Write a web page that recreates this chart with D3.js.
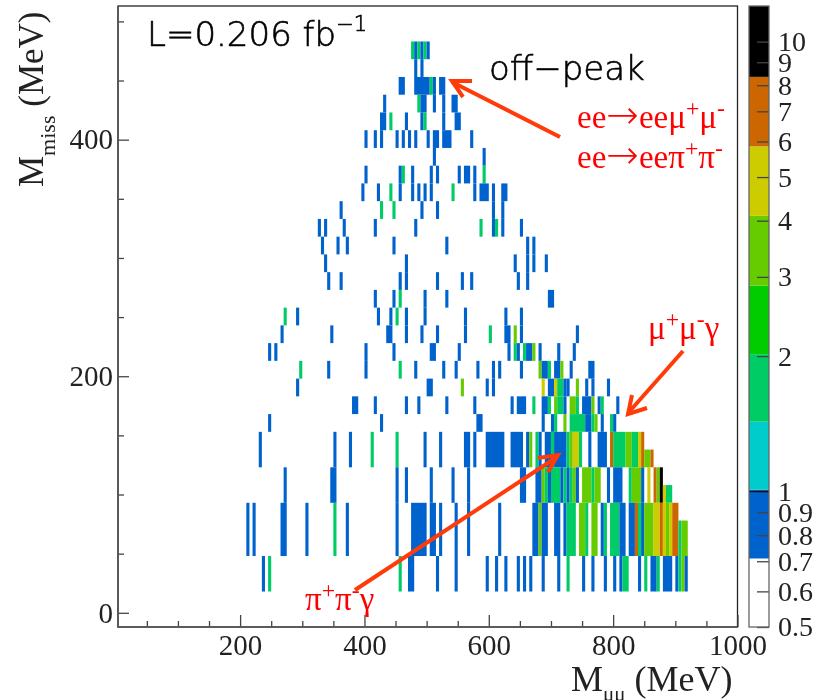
<!DOCTYPE html>
<html>
<head>
	<meta charset="utf-8">
	<script src="https://d3js.org/d3.v7.min.js"></script>
	<title>Mmiss vs Mmumu</title>
	<style>
		body { margin: 0; background: #fff; }
		svg { display: block; filter: blur(0.35px); }
		text { font-family: "Liberation Serif", serif; }
		text.sans { font-family: "DejaVu Sans", sans-serif; font-weight: 200; stroke: #000; stroke-width: 0.6px; }
	</style>
</head>
<body>
	<svg id="SVG" width="822" height="700"></svg>
	<script>
		// row edges in Mmiss (MeV), the lowest rows are wider
		var rowLow = [468,453,438,423,408,393,378,363,348,333,318,303,288,273,258,243,228,213,198,183,168,153,123,123,93,93,48,48,18];
		var rowHigh = [483,468,453,438,423,408,393,378,363,348,333,318,303,288,273,258,243,228,213,198,183,168,153,138,123,108,93,78,48];

		// cells of each row: [from Mmumu, to Mmumu, entries]
		var rowCells = [
			[[475,480,2],[480,485,1],[485,490,2],[490,495,1],[495,500,2],[500,505,1]],
			[[480,485,1],[490,495,1]],
			[[455,465,1],[480,505,1],[505,510,2],[510,515,1],[520,530,1]],
			[[430,435,1],[485,490,2],[490,500,1],[510,515,1],[525,530,1],[540,550,1]],
			[[425,435,1],[440,445,2],[465,470,1],[490,495,1],[495,500,2],[525,530,1],[545,555,1]],
			[[400,405,1],[415,420,1],[425,430,1],[450,455,1],[460,465,1],[470,475,1],[480,485,1],[500,505,1],[510,520,1],[525,540,1],[570,575,1]],
			[[510,515,1],[590,595,1]],
			[[400,405,1],[455,460,1],[460,465,2],[475,480,1],[505,510,1],[515,520,1],[550,555,1],[560,570,1],[575,580,1],[590,595,2]],
			[[395,400,1],[420,425,1],[440,445,2],[455,460,1],[475,480,1],[485,490,1],[495,500,1],[505,510,1],[540,545,2],[575,580,1],[585,600,1],[605,610,1],[620,630,1]],
			[[360,365,1],[425,430,2],[445,450,2],[490,495,1],[515,520,1],[605,610,1],[620,625,1]],
			[[325,330,1],[335,340,1],[365,370,1],[415,420,1],[480,485,1],[585,590,2],[605,610,1],[610,615,2],[620,625,1],[650,655,1]],
			[[330,335,1],[355,360,1],[370,375,1],[445,450,1],[530,535,1],[660,665,1],[670,675,1]],
			[[335,340,1],[465,470,1],[640,645,1],[660,665,1],[670,675,1],[690,695,1]],
			[[340,345,1],[360,365,1],[455,460,1],[465,470,1],[515,520,1],[555,560,1],[570,575,1],[645,650,1],[660,665,1]],
			[[415,420,1],[445,450,1],[455,460,2],[495,500,1],[530,535,1],[695,705,1]],
			[[270,275,2],[290,295,1],[420,425,1],[440,445,1],[450,455,2],[465,470,1],[495,500,1],[560,565,1],[625,630,1],[650,655,1]],
			[[265,270,1],[345,350,1],[435,445,1],[465,470,1],[490,495,1],[515,520,1],[560,565,1],[600,605,2],[625,635,1],[640,645,3],[650,655,1],[740,745,1]],
			[[245,250,1],[255,260,1],[400,405,1],[445,450,1],[505,515,1],[550,555,1],[630,635,1],[640,645,2],[645,650,1],[655,660,2],[660,670,1],[670,675,3],[680,685,1],[710,715,1],[735,740,1]],
			[[295,300,2],[340,345,1],[400,405,1],[455,460,2],[480,485,1],[525,530,1],[545,550,1],[580,585,1],[605,610,1],[615,620,1],[650,655,1],[680,685,3],[685,695,1],[695,700,2],[705,715,1],[715,720,3],[730,735,1],[760,770,1]],
			[[290,295,1],[500,510,1],[555,560,3],[595,600,1],[605,610,1],[685,690,5],[695,705,1],[705,710,5],[710,720,2],[720,725,1],[725,730,1],[740,745,3],[755,760,1],[765,770,1],[790,795,1]],
			[[380,390,1],[415,420,1],[465,470,1],[485,490,1],[530,535,1],[575,580,1],[635,640,1],[645,660,1],[670,675,2],[685,695,1],[695,700,2],[705,710,3],[710,720,2],[720,725,1],[730,740,3],[740,745,2],[750,765,1],[765,770,3],[775,780,1],[780,785,2],[805,810,1]],
			[[245,250,1],[425,430,1],[580,590,1],[685,690,1],[700,705,1],[705,710,2],[720,725,3],[730,755,2],[755,765,1],[765,770,2],[770,775,3],[780,785,1],[795,800,2],[800,805,1]],
			[[230,235,1],[350,355,1],[375,380,1],[410,415,2],[450,455,2],[495,500,1],[520,525,1],[560,570,1],[575,580,1],[595,625,1],[635,655,1],[660,665,1],[665,670,3],[675,680,2],[680,685,1],[690,700,1],[700,705,2],[705,725,1],[725,730,2],[730,735,3],[735,745,5],[745,750,2],[760,765,1],[775,790,1],[795,800,6],[800,820,2],[820,830,3],[830,840,2],[840,845,5],[845,850,6]],
			[[850,860,3],[860,865,6]],
			[[270,275,1],[345,355,1],[450,455,1],[465,470,1],[505,510,1],[540,545,1],[565,570,1],[650,660,1],[675,685,1],[685,690,3],[690,695,2],[695,700,1],[700,715,2],[715,720,1],[720,725,2],[725,730,1],[730,735,2],[735,740,3],[740,745,1],[750,765,3],[765,770,2],[770,780,3],[790,795,1],[800,815,1],[825,830,2],[830,845,3],[845,850,1],[855,860,5],[865,870,6],[870,875,3],[875,880,9]],
			[[880,885,5],[885,895,2]],
			[[210,215,1],[220,225,1],[265,275,1],[305,310,1],[350,355,2],[370,375,1],[450,455,1],[475,500,1],[505,515,1],[520,525,1],[545,550,1],[565,570,1],[615,620,1],[670,680,1],[680,685,3],[685,695,1],[705,715,1],[720,725,1],[725,740,2],[745,755,3],[755,760,2],[765,775,3],[780,785,1],[785,790,2],[795,810,2],[810,820,1],[825,835,1],[835,840,6],[840,845,2],[845,850,1],[850,865,3],[865,875,5],[875,880,6],[880,885,5],[885,890,3],[890,895,5],[895,905,6]],
			[[905,910,2],[910,920,3]],
			[[235,240,1],[245,250,2],[455,460,2],[470,480,1],[515,520,1],[545,550,1],[595,600,1],[610,615,1],[625,630,1],[645,650,1],[655,660,1],[665,670,1],[685,690,1],[710,715,1],[725,730,2],[750,755,1],[765,770,1],[785,790,1],[800,805,1],[810,815,1],[815,825,2],[840,845,1],[850,855,2],[860,870,1],[870,875,2],[880,895,1],[900,905,1],[905,910,2],[910,915,3],[915,920,1]]
		];

		var xMajor = [200,400,600,800,1000];
		var xMinor = [50,100,150,250,300,350,450,500,550,650,700,750,850,900,950];
		var yMajor = [0,200,400];
		var yMinor = [50,100,150,250,300,350,450,500];

		// colour steps of the z palette
		var zLevels = [0.5,0.71,1.01,1.43,2.02,2.87,4.1,5.85,8.35,12];
		var zColors = ["#ffffff","#0062cc","#00cccc","#00cc66","#00cc00","#66cc00","#cccc00","#cc6600","#000000"];
		var zTicks = [0.5,0.6,0.7,0.8,0.9,1,2,3,4,5,6,7,8,9,10];

		var svg = d3.select("#SVG");
		var dark = "#444";

		var x = d3.scaleLinear().domain([3.6,1000]).range([118,737.5]);
		var y = d3.scaleLinear().domain([-12,513]).range([627,6]);
		var z = d3.scaleThreshold().domain(zLevels.slice(1,-1)).range(zColors);
		var zPos = d3.scaleLog().domain([0.5,12]).range([627,6]);

		// flatten rows to cells
		var cells = [];
		rowCells.forEach(function(row, i) {
			row.forEach(function(c) {
				cells.push({x0:c[0], x1:c[1], low:rowLow[i], high:rowHigh[i], n:c[2]});
			});
		});

		svg.append("g").selectAll("rect").data(cells).enter().append("rect")
			.attr("x", d => x(d.x0))
			.attr("width", d => x(d.x1) - x(d.x0))
			.attr("y", d => y(d.high))
			.attr("height", d => y(d.low) - y(d.high))
			.attr("fill", d => z(d.n));

		// frame
		svg.append("rect").attr("x",118).attr("y",6).attr("width",619.5).attr("height",621)
			.attr("fill","none").attr("stroke","#222").attr("stroke-width",1.3);

		function styleAxis(g, size) {
			g.select(".domain").remove();
			g.selectAll("line").attr("stroke", dark).attr("stroke-width", 1.3);
			g.selectAll("text").attr("font-family","Liberation Serif").attr("font-size",size).attr("fill","#222");
		}

		svg.append("g").attr("transform","translate(0,627)")
			.call(d3.axisBottom(x).tickValues(xMajor).tickSize(-12).tickPadding(7).tickFormat(d3.format("d")))
			.call(styleAxis, 29);
		svg.append("g").attr("transform","translate(0,627)")
			.call(d3.axisBottom(x).tickValues(xMinor).tickSize(-6).tickFormat(""))
			.call(styleAxis, 29);
		svg.append("g").attr("transform","translate(118,0)")
			.call(d3.axisLeft(y).tickValues(yMajor).tickSize(-11).tickPadding(5).tickFormat(d3.format("d")))
			.call(styleAxis, 29);
		svg.append("g").attr("transform","translate(118,0)")
			.call(d3.axisLeft(y).tickValues(yMinor).tickSize(-6).tickFormat(""))
			.call(styleAxis, 29);

		// heavier bottom and left edges
		svg.append("path").attr("d","M118,6V627H737.5").attr("fill","none").attr("stroke","#555").attr("stroke-width",1.6);

		// colour bar
		var barX = 749, barW = 20;
		svg.append("g").selectAll("rect").data(zColors).enter().append("rect")
			.attr("x", barX).attr("width", barW)
			.attr("y", (d,i) => zPos(zLevels[i+1]))
			.attr("height", (d,i) => zPos(zLevels[i]) - zPos(zLevels[i+1]))
			.attr("fill", d => d);
		svg.append("g").attr("transform","translate("+(barX+barW)+",0)")
			.call(d3.axisRight(zPos).tickValues(zTicks).tickSize(-12).tickPadding(9).tickFormat(d => d))
			.call(styleAxis, 28);
		svg.append("line").attr("x1",barX).attr("x2",barX+barW).attr("y1",zPos(1)).attr("y2",zPos(1)).attr("stroke","#111").attr("stroke-width",1.3);
		svg.append("rect").attr("x",barX).attr("y",6).attr("width",barW).attr("height",621)
			.attr("fill","none").attr("stroke","#666").attr("stroke-width",1.3);

		// axis titles
		var xt = svg.append("text").attr("x",571).attr("y",691).attr("font-size",36).attr("fill","#222");
		xt.append("tspan").text("M");
		xt.append("tspan").attr("font-size",21).attr("dy",10).text("μμ");
		xt.append("tspan").attr("dy",-10).text(" (MeV)");

		var yt = svg.append("text").attr("transform","translate(43,187) rotate(-90)").attr("font-size",35).attr("fill","#222");
		yt.append("tspan").text("M");
		yt.append("tspan").attr("font-size",22).attr("dy",12).text("miss");
		yt.append("tspan").attr("dy",-12).text(" (MeV)");

		// labels on the plot
		var lumi = svg.append("text").attr("class","sans").attr("x",147).attr("y",46).attr("font-size",34).attr("fill","#000");
		lumi.append("tspan").text("L=0.206 fb");
		lumi.append("tspan").attr("font-size",21).attr("dy",-15).text("−1");

		svg.append("text").attr("class","sans").attr("x",489).attr("y",80).attr("font-size",34)
			.attr("fill","#000").text("off−peak");

		function redLabel(px, py, parts, size) {
			var t = svg.append("text").attr("x",px).attr("y",py).attr("font-size",size).attr("fill","#ff0000");
			var up = 0;
			parts.forEach(function(p) {
				var s = t.append("tspan").text(p[0]);
				var now = p[1] === 1 ? -12 : 0;
				s.attr("dy", now - up);
				if (p[1] === 1) s.attr("font-size", size*0.72);
				if (p[1] === 2) s.attr("font-family","DejaVu Sans").attr("font-weight",200).attr("font-size", size*1.18);
				up = now;
			});
		}
		redLabel(577,128,[["ee"],["→",2],["eeμ"],["+",1],["μ"],["-",1]],33);
		redLabel(577,168,[["ee"],["→",2],["eeπ"],["+",1],["π"],["-",1]],33);
		redLabel(648,339,[["μ"],["+",1],["μ"],["-",1],["γ"]],33);
		redLabel(305,610,[["π"],["+",1],["π"],["-",1],["γ"]],33);

		// arrows: shaft plus open head
		var arrows = [
			{d:"M560,137L452,82", head:"M472,81L452,81L463,97"},
			{d:"M683,351L629,412", head:"M632,395L628,414L647,408"},
			{d:"M355,590L557,457", head:"M538,458L558,455L548,472"}
		];
		arrows.forEach(function(a) {
			svg.append("path").attr("d",a.d).attr("fill","none").attr("stroke","#ff3b0a").attr("stroke-width",4);
			svg.append("path").attr("d",a.head).attr("fill","none").attr("stroke","#ff3b0a").attr("stroke-width",4).attr("stroke-linejoin","miter");
		});
	</script>
</body>
</html>
